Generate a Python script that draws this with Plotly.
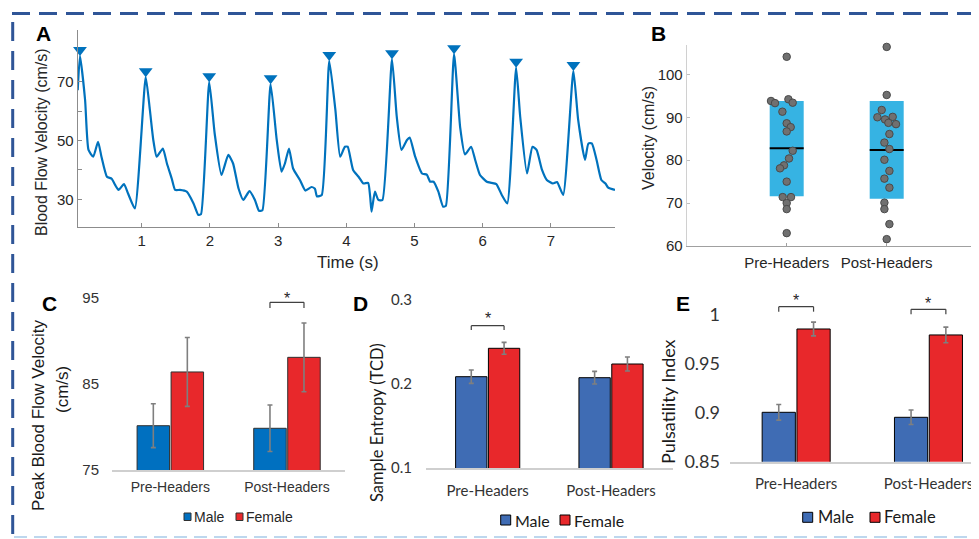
import plotly.graph_objects as go

# Page body has an 8px margin; the figure is sized to fill the 979x539 window exactly.
W, H = 971, 531
OFF = 8


def FX(x):
    return (x - OFF) / W


def FY(y):
    return 1 - (y - OFF) / H


# ---------------- Panel A: TCD waveform ----------------
time_s = [0.062, 0.095, 0.17, 0.22, 0.29, 0.36, 0.41, 0.49, 0.56, 0.61, 0.66, 0.74, 0.80, 0.90,
          1.059, 1.12, 1.17, 1.22, 1.31, 1.37, 1.44, 1.49, 1.56, 1.66, 1.76, 1.83, 1.87,
          1.99, 2.07, 2.17, 2.27, 2.34, 2.42, 2.49, 2.58, 2.66, 2.72, 2.77,
          2.89, 2.98, 3.05, 3.10, 3.16, 3.22, 3.32, 3.40, 3.49, 3.54, 3.57, 3.64,
          3.75, 3.84, 3.91, 3.98, 4.02, 4.10, 4.18, 4.25, 4.32, 4.35, 4.37, 4.42, 4.47, 4.53,
          4.67, 4.74, 4.81, 4.89, 4.93, 5.01, 5.11, 5.18, 5.23, 5.28, 5.35, 5.42, 5.46,
          5.58, 5.67, 5.74, 5.83, 5.89, 5.96, 6.06, 6.13, 6.20, 6.28, 6.36,
          6.49, 6.55, 6.65, 6.73, 6.79, 6.87, 6.94, 7.03, 7.09, 7.18,
          7.33, 7.40, 7.50, 7.55, 7.60, 7.67, 7.74, 7.80, 7.84, 7.94]
velocity = [67.1, 78.8, 63.8, 46.8, 44.5, 49.6, 44.5, 37.7, 37.0, 34.9, 33.2, 35.2, 32.0, 26.9,
            71.6, 60.4, 50.2, 44.5, 47.3, 42.2, 37.1, 33.2, 33.2, 32.6, 28.6, 24.7, 25.0,
            69.9, 52.4, 38.3, 45.1, 42.2, 33.7, 29.8, 32.8, 29.8, 26.1, 26.3,
            69.2, 50.2, 39.4, 42.2, 47.3, 40.5, 36.6, 33.0, 34.2, 33.6, 31.0, 31.5,
            77.1, 60.4, 44.5, 47.9, 47.9, 40.0, 37.7, 35.4, 35.6, 30.9, 25.8, 32.6, 29.8, 29.8,
            77.7, 58.1, 46.8, 50.2, 51.0, 44.5, 38.8, 38.4, 36.0, 36.0, 32.6, 27.5, 27.8,
            79.4, 54.4, 45.3, 47.9, 43.4, 38.3, 36.0, 35.6, 35.2, 31.5, 28.6,
            74.8, 58.1, 38.8, 47.9, 46.8, 40.0, 36.6, 35.4, 35.9, 31.5,
            73.7, 57.0, 43.4, 49.0, 49.0, 43.4, 36.6, 35.4, 34.0, 33.2]
peak_time = [0.095, 1.059, 1.99, 2.89, 3.75, 4.67, 5.58, 6.49, 7.33]
peak_marker_vel = [80.8, 73.6, 71.9, 71.2, 79.1, 79.7, 81.4, 76.8, 75.7]
a_xticks = [1, 2, 3, 4, 5, 6, 7]
a_yticks = [30, 40, 50, 60, 70]
a_yticktext = ["30", "", "50", "", "70"]

# ---------------- Panel B: velocity pre/post ----------------
groups = ["Pre-Headers", "Post-Headers"]
pre_vel = [104.1, 93.8, 93.3, 94.2, 93.4, 91.3, 88.6, 87.7, 86.7, 82.2, 80.4, 78.8, 78.1,
           75.0, 71.4, 71.4, 70.0, 68.6, 63.0]
pre_jitter = [0, -0.157, -0.117, 0.017, 0.06, -0.043, 0, 0.04, 0, 0.06, 0.023, -0.027,
              -0.067, 0, -0.04, 0.043, 0, 0, 0]
post_vel = [106.4, 95.2, 91.7, 90.0, 89.5, 90.1, 88.7, 88.4, 86.1, 84.1, 82.6, 80.1, 77.5,
            75.7, 73.6, 70.1, 68.6, 65.1, 61.6]
post_jitter = [0, 0, -0.05, -0.093, -0.017, 0.06, 0.017, 0.093, 0.027, -0.023, 0.027, -0.023,
               0.027, -0.023, 0.027, -0.023, -0.023, 0.027, 0]
box_low = [71.6, 71.0]
box_high = [93.8, 93.8]
box_median = [82.8, 82.4]
b_yticks = [60, 70, 80, 90, 100]

# ---------------- Panels C, D, E: sex differences ----------------
categories = ["Pre-Headers", "Post-Headers"]
sex_labels = ["Male", "Female"]
c_male = [80.15, 79.85]
c_male_err = [2.55, 2.7]
c_female = [86.4, 88.1]
c_female_err = [4.0, 4.0]
d_male = [0.2087, 0.2075]
d_male_err = [0.008, 0.0075]
d_female = [0.2425, 0.2238]
d_female_err = [0.007, 0.0083]
e_male = [0.9005, 0.8954]
e_male_err = [0.008, 0.0074]
e_female = [0.9857, 0.9796]
e_female_err = [0.007, 0.008]

# ---------------- styling ----------------
ARIAL = "Liberation Sans, Arial, sans-serif"
CALI = "Lato, Carlito, sans-serif"
MBLUE = "#0072BD"
TXT = "#262626"

fig = go.Figure()

# Panel A
fig.add_trace(go.Scatter(x=time_s, y=velocity, mode="lines", xaxis="x", yaxis="y",
                         line=dict(color=MBLUE, width=2.2, shape="spline", smoothing=0.5),
                         showlegend=False, hoverinfo="skip"))
fig.add_trace(go.Scatter(x=peak_time, y=peak_marker_vel, mode="markers", xaxis="x", yaxis="y",
                         marker=dict(symbol="triangle-down", size=12, color=MBLUE),
                         showlegend=False, cliponaxis=False))

# Panel B
box_w = 0.34
fig.add_trace(go.Bar(x=[0, 1], y=[h - l for h, l in zip(box_high, box_low)], base=box_low,
                     width=box_w, xaxis="x2", yaxis="y2",
                     marker=dict(color="#36B3E3", line=dict(width=0)), showlegend=False))
for i, m in enumerate(box_median):
    fig.add_trace(go.Scatter(x=[i - box_w / 2, i + box_w / 2], y=[m, m], mode="lines",
                             xaxis="x2", yaxis="y2", line=dict(color="black", width=2),
                             showlegend=False))
for i, (vals, jit) in enumerate([(pre_vel, pre_jitter), (post_vel, post_jitter)]):
    fig.add_trace(go.Scatter(x=[i + j for j in jit], y=vals, mode="markers", xaxis="x2", yaxis="y2",
                             marker=dict(size=7.5, color="#707070", line=dict(color="#4a4a4a", width=1)),
                             showlegend=False, cliponaxis=False))

# Bars C, D, E
panels = [
    ("x3", "y3", c_male, c_male_err, c_female, c_female_err, "#0070C0", "#E8282B", 0.2785, 0.013, "#303030"),
    ("x4", "y4", d_male, d_male_err, d_female, d_female_err, "#3F6CB4", "#E8282B", 0.254, 0.012, "#000000"),
    ("x5", "y5", e_male, e_male_err, e_female, e_female_err, "#3F6CB4", "#E8282B", 0.251, 0.012, "#000000"),
]
for xa, ya, m, me, f, fe, cm, cf, w, g, oc in panels:
    fig.add_trace(go.Bar(x=categories, y=m, name=sex_labels[0], xaxis=xa, yaxis=ya, width=w,
                         offset=-(w + g / 2), marker=dict(color=cm, line=dict(color=oc, width=1)),
                         error_y=dict(type="data", array=me, color="#7F7F7F", thickness=1.6, width=2.5),
                         showlegend=False))
    fig.add_trace(go.Bar(x=categories, y=f, name=sex_labels[1], xaxis=xa, yaxis=ya, width=w,
                         offset=g / 2, marker=dict(color=cf, line=dict(color=oc, width=1)),
                         error_y=dict(type="data", array=fe, color="#7F7F7F", thickness=1.6, width=2.5),
                         showlegend=False))

# subplot boxes, in reference pixels
dom = {
    "C": ([FX(112), FX(345.3)], [FY(470), FY(298)], [-0.5, 1.5], [75, 95]),
    "D": ([FX(426), FX(672.7)], [FY(468), FY(300)], [-0.5, 1.5], [0.1, 0.3]),
    "E": ([FX(730), 1.0], [FY(461.7), FY(315)], [-0.5, 1.382], [0.85, 1.0]),
}


def ax_common(**kw):
    d = dict(showgrid=False, zeroline=False, automargin=False)
    d.update(kw)
    return d


layout = dict(
    template="none",
    width=W, height=H, margin=dict(l=0, r=0, t=0, b=0, pad=0), autosize=False,
    paper_bgcolor="white", plot_bgcolor="rgba(0,0,0,0)",
    barmode="overlay", showlegend=False,
    xaxis=ax_common(domain=[FX(77.7), FX(615)], range=[0.0616, 7.94], anchor="y",
                    showline=True, linecolor="#8c8c8c", linewidth=1, ticks="inside", ticklen=4,
                    tickcolor="#8c8c8c", tickvals=a_xticks,
                    tickfont=dict(family=ARIAL, size=15, color=TXT)),
    yaxis=ax_common(domain=[FY(226.7), FY(30)], range=[20.7, 87.6], anchor="x",
                    showline=True, linecolor="#8c8c8c", linewidth=1, ticks="inside", ticklen=4,
                    tickcolor="#8c8c8c", tickvals=a_yticks, ticktext=a_yticktext,
                    tickfont=dict(family=ARIAL, size=15, color=TXT)),
    xaxis2=ax_common(domain=[FX(686.7), 1.0], range=[-1, 1.923], anchor="y2",
                     showline=True, linecolor="#a0a0a0", linewidth=1.2, ticks="inside", ticklen=3,
                     tickcolor="#a0a0a0", tickvals=[0, 1], ticktext=groups, ticklabelstandoff=3,
                     tickfont=dict(family=ARIAL, size=15, color=TXT)),
    yaxis2=ax_common(domain=[FY(246), FY(45.2)], range=[60, 106.8], anchor="x2",
                     showline=True, linecolor="#d0d0d0", linewidth=1, ticks="inside", ticklen=3,
                     tickcolor="#c0c0c0", tickvals=b_yticks,
                     tickfont=dict(family=ARIAL, size=15, color=TXT)),
)
for idx, (key, fam, tsz, xsz, stand, xstand) in zip([3, 4, 5], [("C", ARIAL, 15, 14, 12, 3),
                                                          ("D", CALI, 15, 15, 13, 8),
                                                          ("E", CALI, 18, 15, 9, 8)]):
    xd, yd, xr, yr = dom[key]
    ytv = {"C": [75, 85, 95], "D": [0.1, 0.2, 0.3], "E": [0.85, 0.9, 0.95, 1.0]}[key]
    ytt = {"C": ["75", "85", "95"], "D": ["0.1", "0.2", "0.3"], "E": ["0.85", "0.9", "0.95", "1"]}[key]
    layout[f"xaxis{idx}"] = ax_common(domain=xd, range=xr, anchor=f"y{idx}", type="category",
                                      showline=True, linecolor="#cfcfcf", linewidth=1.5, ticks="",
                                      ticklabelstandoff=xstand,
                                      tickfont=dict(family=fam, size=xsz, color="#333333"))
    layout[f"yaxis{idx}"] = ax_common(domain=yd, range=yr, anchor=f"x{idx}", showline=False,
                                      ticks="", tickvals=ytv, ticktext=ytt, ticklabelstandoff=stand,
                                      tickfont=dict(family=fam, size=tsz, color="#333333"))
fig.update_layout(**layout)


def to_paper(v, key):
    _, yd, _, yr = dom[key]
    return yd[0] + (v - yr[0]) / (yr[1] - yr[0]) * (yd[1] - yd[0])


def bracket(key, xref, cat_i, w, g, y_top, y_bot, star_y):
    x0 = cat_i - g / 2 - w / 2
    x1 = cat_i + g / 2 + w / 2
    yt, yb = to_paper(y_top, key), to_paper(y_bot, key)
    for xa, ya, xb, yb2 in [(x0, yb, x0, yt), (x0, yt, x1, yt), (x1, yt, x1, yb)]:
        fig.add_shape(type="line", xref=xref, yref="paper", x0=xa, y0=ya, x1=xb, y1=yb2,
                      line=dict(color="#404040", width=1.2))
    fig.add_annotation(x=cat_i, y=to_paper(star_y, key), xref=xref, yref="paper", text="*",
                       showarrow=False, font=dict(family=ARIAL, size=16, color="#262626"),
                       yanchor="middle")


bracket("C", "x3", 1, 0.2785, 0.013, 94.5, 93.85, 94.9)
bracket("D", "x4", 0, 0.254, 0.012, 0.2694, 0.2643, 0.2775)
bracket("E", "x5", 0, 0.251, 0.012, 1.0085, 1.0034, 1.0145)
bracket("E", "x5", 1, 0.251, 0.012, 1.0058, 1.0007, 1.0118)


def txt(s, x, y, size, family=ARIAL, color=TXT, angle=0, bold=False, xanchor="center"):
    if bold:
        s = f"<b>{s}</b>"
    fig.add_annotation(x=FX(x), y=FY(y), xref="paper", yref="paper", text=s, showarrow=False,
                       font=dict(family=family, size=size, color=color), textangle=angle,
                       xanchor=xanchor, yanchor="middle")


# panel letters
txt("A", 43, 33, 21, color="black", bold=True)
txt("B", 658, 33, 21, color="black", bold=True)
txt("C", 49, 303, 21, color="black", bold=True)
txt("D", 360, 303, 21, color="black", bold=True)
txt("E", 683, 303, 21, color="black", bold=True)

# axis titles
txt("Blood Flow Velocity (cm/s)", 42, 142, 16, angle=-90)
txt("Time (s)", 348, 262, 17)
txt("Velocity (cm/s)", 648, 138, 16, angle=-90)
txt("Peak Blood Flow Velocity", 38, 416, 17, color="#1a1a1a", angle=-90)
txt("(cm/s)", 62, 390, 17, color="#1a1a1a", angle=-90)
txt("Sample Entropy (TCD)", 377, 423, 16.5, family=CALI, color="#1a1a1a", angle=-90)
txt("Pulsatility Index", 668, 402, 18, family=CALI, color="#1a1a1a", angle=-90)


# legends (keys + labels)
def key_rect(x0, y0, x1, y1, color, outline):
    fig.add_shape(type="rect", xref="paper", yref="paper", x0=FX(x0), x1=FX(x1),
                  y0=FY(y1), y1=FY(y0), fillcolor=color, line=dict(color=outline, width=1))


key_rect(184, 513, 191, 520.5, "#0070C0", "#303030")
txt(sex_labels[0], 192, 516.7, 14, xanchor="left")
key_rect(236, 513, 243, 520.5, "#E8282B", "#303030")
txt(sex_labels[1], 244, 516.7, 14, xanchor="left")

key_rect(500.7, 515, 510.7, 525, "#3F6CB4", "#000000")
txt(sex_labels[0], 512.5, 520, 16, family=CALI, color="#1a1a1a", xanchor="left")
key_rect(560, 515, 570, 525, "#E8282B", "#000000")
txt(sex_labels[1], 572, 520, 16, family=CALI, color="#1a1a1a", xanchor="left")

key_rect(802.7, 512.3, 812.7, 522.3, "#3F6CB4", "#000000")
txt(sex_labels[0], 815.5, 517.3, 16.5, family=CALI, color="#1a1a1a", xanchor="left")
key_rect(870, 512.3, 880, 522.3, "#E8282B", "#000000")
txt(sex_labels[1], 881.5, 517.3, 16.5, family=CALI, color="#1a1a1a", xanchor="left")

# dashed frame
fig.add_shape(type="line", xref="paper", yref="paper", x0=FX(12), x1=1, y0=FY(13.5), y1=FY(13.5),
              line=dict(color="#2F5597", width=3, dash="18px,9px"))
fig.add_shape(type="line", xref="paper", yref="paper", x0=FX(12.7), x1=FX(12.7), y0=FY(22), y1=0,
              line=dict(color="#2F5597", width=3, dash="19px,10px"))
fig.add_shape(type="line", xref="paper", yref="paper", x0=FX(14), x1=1, y0=FY(537), y1=FY(537),
              line=dict(color="#BDD7EE", width=2, dash="13px,7px"))

fig.write_html("out.html")
